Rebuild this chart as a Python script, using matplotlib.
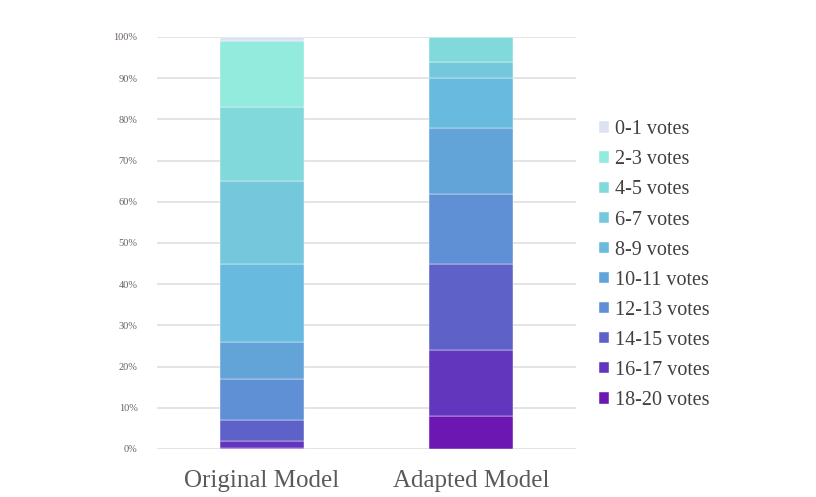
import matplotlib.pyplot as plt
from matplotlib.ticker import PercentFormatter

models = ['Original Model', 'Adapted Model']
vote_groups = ['0-1 votes', '2-3 votes', '4-5 votes', '6-7 votes', '8-9 votes',
               '10-11 votes', '12-13 votes', '14-15 votes', '16-17 votes', '18-20 votes']
# share of items (%) per vote group, stacked from the bottom (18-20) up
original = [1, 16, 18, 20, 19, 9, 10, 5, 1.7, 0.3]
adapted = [0, 0, 6, 4, 12, 16, 17, 21, 16, 8]
colors = ['#dde1f2', '#92ebdc', '#82d9dc', '#75c8dc', '#68badf',
          '#62a3d8', '#5f8fd4', '#5e62c8', '#6237bd', '#6d17b2']

plt.rcParams['font.family'] = ['Liberation Serif', 'DejaVu Serif']

fig = plt.figure(figsize=(8.16, 4.97), dpi=100)
ax = fig.add_axes([0.1924, 0.0966, 0.5135, 0.829])

x = range(len(models))
bottoms = [0.0, 0.0]
handles = []
for i in range(len(vote_groups) - 1, -1, -1):
    vals = [original[i], adapted[i]]
    b = ax.bar(x, vals, width=0.4, bottom=bottoms, color=colors[i],
               edgecolor='#ffffff', linewidth=0.3, zorder=3, label=vote_groups[i])
    handles.append(b)
    bottoms = [bottoms[0] + vals[0], bottoms[1] + vals[1]]

ax.set_xlim(-0.5, 1.5)
ax.set_ylim(0, 100)
ax.set_yticks(range(0, 101, 10))
ax.yaxis.set_major_formatter(PercentFormatter(decimals=0))
ax.grid(axis='y', color='#e2e2e2', linewidth=1.3, zorder=0)
for s in ax.spines.values():
    s.set_visible(False)
ax.tick_params(axis='y', length=0, pad=14, labelsize=7.5, labelcolor='#6b6060')
ax.tick_params(axis='x', length=0, pad=15, labelsize=18, labelcolor='#595959')
ax.set_xticks(list(x), models)

leg = ax.legend(handles[::-1], vote_groups, loc='upper left',
                bbox_to_anchor=(0.734, 0.758), bbox_transform=fig.transFigure,
                frameon=False, fontsize=14.5, handlelength=0.5, handleheight=0.5,
                handletextpad=0.3, labelspacing=0.55, borderaxespad=0, borderpad=0)
for t in leg.get_texts():
    t.set_color('#404040')

fig.savefig('out.png', dpi=100)
